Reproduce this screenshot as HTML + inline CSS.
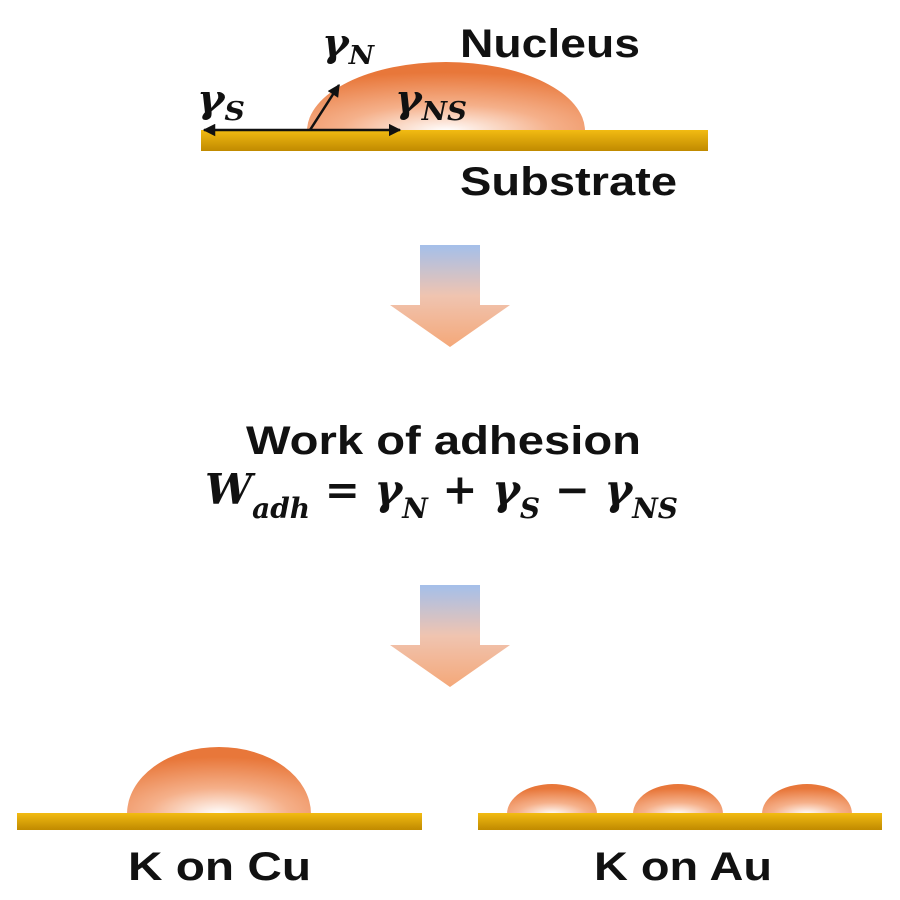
<!DOCTYPE html>
<html><head><meta charset="utf-8"><style>
body{margin:0;background:#fff;}
svg{display:block}
.b{font-family:"Liberation Sans",sans-serif;font-weight:bold;fill:#111}
.m{font-family:"DejaVu Serif","Liberation Serif",serif;font-style:italic;font-weight:bold;fill:#111}
</style></head><body>
<svg width="900" height="900" viewBox="0 0 900 900" xmlns="http://www.w3.org/2000/svg">
<defs>
<radialGradient id="dome" cx="0.5" cy="1" r="0.85" fx="0.5" fy="1">
<stop offset="0" stop-color="#fff"/><stop offset="0.45" stop-color="#f5b08a"/><stop offset="1" stop-color="#e8773a"/>
</radialGradient>
<linearGradient id="bar" x1="0" y1="0" x2="0" y2="1">
<stop offset="0" stop-color="#f2bb12"/><stop offset="1" stop-color="#c08a00"/>
</linearGradient>
<linearGradient id="arr" x1="0" y1="0" x2="0" y2="1">
<stop offset="0" stop-color="#a4bfea"/><stop offset="0.5" stop-color="#f0c4b0"/><stop offset="1" stop-color="#f4a879"/>
</linearGradient>
<marker id="ah" viewBox="0 0 10 10" refX="9" refY="5" markerWidth="5" markerHeight="5" orient="auto-start-reverse"><path d="M0,0L10,5L0,10z" fill="#111"/></marker>
</defs>
<path d="M307,131 A139,69 0 0 1 585,131 Z" fill="url(#dome)"/>
<rect x="201" y="130" width="507" height="21" fill="url(#bar)"/>
<line x1="204" y1="130" x2="400" y2="130" stroke="#111" stroke-width="2.5" marker-start="url(#ah)" marker-end="url(#ah)"/>
<line x1="310" y1="130" x2="339" y2="85" stroke="#111" stroke-width="2.5" marker-end="url(#ah)"/>
<text class="b" x="460" y="57" font-size="40" textLength="180" lengthAdjust="spacingAndGlyphs">Nucleus</text>
<text class="b" x="460" y="195" font-size="40" textLength="217" lengthAdjust="spacingAndGlyphs">Substrate</text>
<text class="m" x="197" y="112" font-size="38" textLength="48" lengthAdjust="spacingAndGlyphs">γ<tspan font-size="26" dy="8">S</tspan></text>
<text class="m" x="322" y="56" font-size="38" textLength="52" lengthAdjust="spacingAndGlyphs">γ<tspan font-size="26" dy="8">N</tspan></text>
<text class="m" x="395" y="112" font-size="38" textLength="72" lengthAdjust="spacingAndGlyphs">γ<tspan font-size="26" dy="8">NS</tspan></text>
<path d="M420,245H480V305H510L450,347L390,305H420Z" fill="url(#arr)"/>
<path d="M420,585H480V645H510L450,687L390,645H420Z" fill="url(#arr)"/>
<text class="b" x="246" y="454" font-size="40" textLength="395" lengthAdjust="spacingAndGlyphs">Work of adhesion</text>
<text class="m" x="205" y="504" font-size="42" textLength="473" lengthAdjust="spacingAndGlyphs">W<tspan font-size="28" dy="14">adh</tspan><tspan dy="-14"> = γ</tspan><tspan font-size="28" dy="14">N</tspan><tspan dy="-14"> + γ</tspan><tspan font-size="28" dy="14">S</tspan><tspan dy="-14"> − γ</tspan><tspan font-size="28" dy="14">NS</tspan></text>
<path d="M127,814 A92,67 0 0 1 311,814 Z" fill="url(#dome)"/>
<path d="M507,814 A45,30 0 0 1 597,814 Z" fill="url(#dome)"/>
<path d="M633,814 A45,30 0 0 1 723,814 Z" fill="url(#dome)"/>
<path d="M762,814 A45,30 0 0 1 852,814 Z" fill="url(#dome)"/>
<rect x="17" y="813" width="405" height="17" fill="url(#bar)"/>
<rect x="478" y="813" width="404" height="17" fill="url(#bar)"/>
<text class="b" x="128" y="880" font-size="40" textLength="183" lengthAdjust="spacingAndGlyphs">K on Cu</text>
<text class="b" x="594" y="880" font-size="40" textLength="178" lengthAdjust="spacingAndGlyphs">K on Au</text>
</svg>
</body></html>
